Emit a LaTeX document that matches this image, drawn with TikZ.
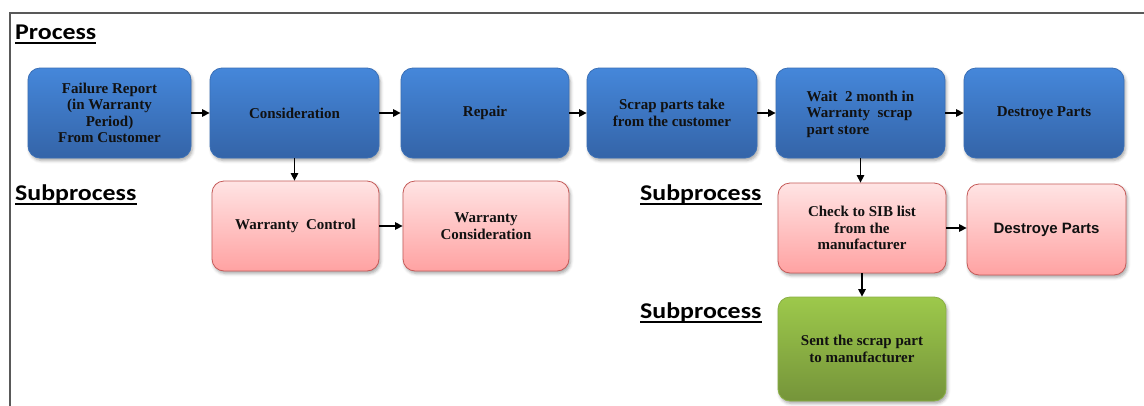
\documentclass[tikz,border=0pt]{standalone}
\usepackage{fontspec}
\setmainfont{Liberation Serif}
\newfontfamily\headfont[FakeStretch=1.15]{Carlito}
\newfontfamily\arialfont{Liberation Sans}
\usetikzlibrary{arrows.meta,shadows.blur}

\definecolor{frameclr}{HTML}{595959}
\definecolor{bluetop}{HTML}{4587DA}
\definecolor{bluebot}{HTML}{3464A8}
\definecolor{blueedge}{HTML}{3A6FB6}
\definecolor{pinktop}{HTML}{FFE4E4}
\definecolor{pinkbot}{HTML}{FFA2A2}
\definecolor{pinkedge}{HTML}{C55A58}
\definecolor{greentop}{HTML}{9DC94B}
\definecolor{greenbot}{HTML}{75943A}
\definecolor{greenedge}{HTML}{8AAF45}
\definecolor{txt}{HTML}{111111}

\tikzset{
  boxbase/.style={rounded corners=12pt, line width=0.8pt, align=center,
    text=txt, inner sep=2pt,
    font=\fontsize{15}{16.5}\selectfont\bfseries,
    blur shadow={shadow xshift=1.5pt, shadow yshift=-2.5pt,
      shadow blur radius=3pt, shadow opacity=35}},
  bluebox/.style={boxbase, shade, top color=bluetop, bottom color=bluebot,
    draw=blueedge, minimum height=90pt},
  pinkbox/.style={boxbase, shade, top color=pinktop, bottom color=pinkbot,
    draw=pinkedge, minimum height=90pt},
  greenbox/.style={boxbase, shade, top color=greentop, bottom color=greenbot,
    draw=greenedge},
  flow/.style={line width=1.4pt, -{Triangle[length=7.5pt,width=7.5pt]}},
  heading/.style={anchor=base west, inner sep=0pt, text=black,
    font=\headfont\fontsize{22.5}{24}\selectfont\bfseries},
}

\begin{document}
\begin{tikzpicture}[x=1pt,y=-1pt]
\useasboundingbox (0,0) rectangle (1144,405);

% outer frame (top and left edges)
\draw[frameclr, line width=1.8pt] (1144,13) -- (10,13) -- (10,406);

% section headings
\node[heading] (hproc) at (15,39) {Process};
\node[heading] (hsub1) at (15,200) {Subprocess};
\node[heading] (hsub2) at (640,200) {Subprocess};
\node[heading] (hsub3) at (640,318) {Subprocess};
\foreach \h in {hproc,hsub1,hsub2,hsub3}
  \draw[line width=2pt] ([yshift=-4pt]\h.base west) -- ([yshift=-4pt]\h.base east);

% main process row
\node[bluebox, minimum width=163pt] (b1) at (109.5,113)
  {Failure Report\\ (in Warranty\\ Period)\\From Customer};
\node[bluebox, minimum width=169pt] (b2) at (294.5,113) {Consideration};
\node[bluebox, minimum width=168pt] (b3) at (485,113) {Repair};
\node[bluebox, minimum width=170pt] (b4) at (672,113)
  {Scrap parts take\\from the customer};
\node[bluebox, minimum width=169pt] (b5) at (860.5,113) {};
\node[align=left, text=txt, font=\fontsize{15}{16.5}\selectfont\bfseries]
  (b5t) at ([yshift=-1pt]b5.center) {Wait\ \ 2 month in\\Warranty\ \ scrap\\ part\ store};
\node[bluebox, minimum width=160pt] (b6) at (1044,113) {Destroye Parts};

% first subprocess
\node[pinkbox, minimum width=167pt] (wc) at (295.5,226) {Warranty\ \ Control};
\node[pinkbox, minimum width=166pt] (wcons) at (486,226)
  {Warranty\\Consideration};

% second subprocess
\node[pinkbox, minimum width=168pt] (sib) at (862,228)
  {Check to SIB list\\from the\\manufacturer};
\node[pinkbox, minimum width=159pt, minimum height=91pt,
  font=\arialfont\fontsize{15}{17}\selectfont\bfseries] (dp) at (1046.5,229.5)
  {Destroye Parts};

% third subprocess
\node[greenbox, minimum width=168pt, minimum height=104pt] (snd) at (862,349)
  {Sent the scrap part\\to manufacturer};

% connectors
\draw[flow] (b1.east) -- (b2.west);
\draw[flow] (b2.east) -- (b3.west);
\draw[flow] (b3.east) -- (b4.west);
\draw[flow] (b4.east) -- (b5.west);
\draw[flow] (b5.east) -- (b6.west);
\draw[flow] (b2.south) -- (b2.south |- wc.north);
\draw[flow] (wc.east) -- (wcons.west);
\draw[flow] (b5.south) -- (b5.south |- sib.north);
\draw[flow] (sib.east) -- (sib.east -| dp.west);
\draw[flow] (sib.south) -- (snd.north);
\end{tikzpicture}
\end{document}
